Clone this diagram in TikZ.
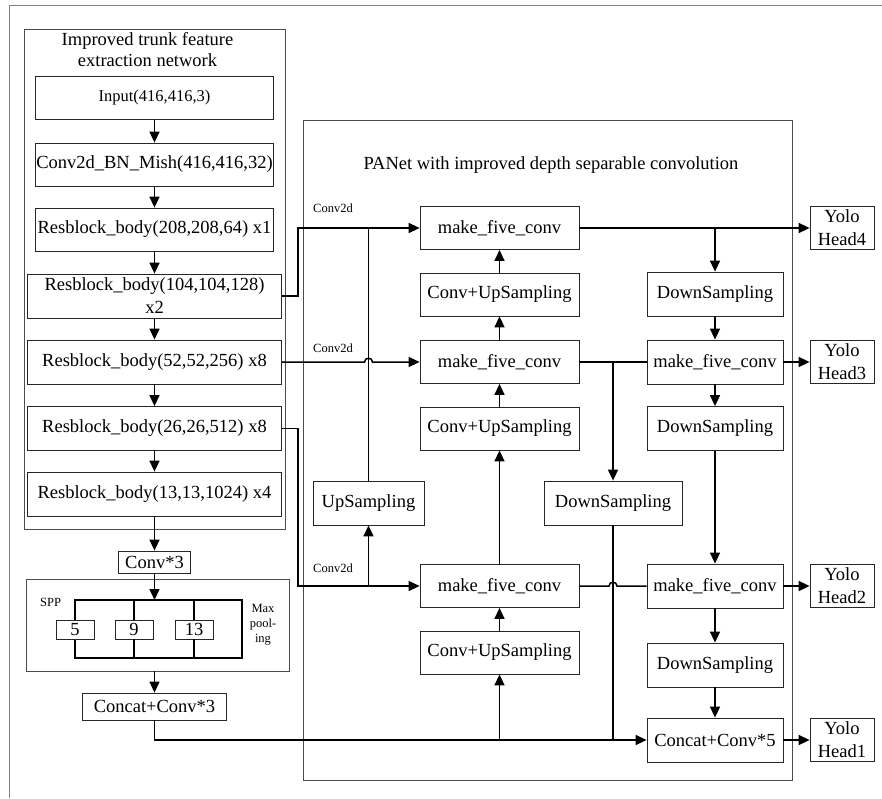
\documentclass[tikz,border=0pt]{standalone}
\usepackage{fontspec}
\setmainfont{Liberation Serif}
\usetikzlibrary{arrows.meta}
\newcommand\boxfont{\fontsize{18.5}{23}\selectfont}
\newcommand\inputfont{\fontsize{16.5}{20}\selectfont}
\newcommand\notefont{\fontsize{12.5}{15}\selectfont}
\begin{document}
\begin{tikzpicture}[x=1pt,y=-1pt,
  blk/.style={draw=black!85, line width=0.8pt, inner sep=0pt, align=center, font=\boxfont},
  trunkbox/.style={blk, minimum width=238pt, minimum height=43pt},
  widebox/.style={blk, minimum width=254pt, minimum height=44pt},
  panbox/.style={blk, minimum width=159pt, minimum height=43pt},
  sidebox/.style={blk, minimum width=136pt, minimum height=44pt},
  headbox/.style={blk, minimum width=64pt, minimum height=43pt},
  poolbox/.style={blk, fill=white, minimum width=38pt, minimum height=19pt},
  flow/.style={line width=1.5pt, -{Triangle[length=11pt,width=10pt]}},
  wire/.style={line width=1.5pt},
  frame/.style={draw=black!70, line width=0.9pt},
  note/.style={font=\notefont, inner sep=0pt, align=center}]
\useasboundingbox (0,0) rectangle (882,798);

% outer frame
\draw[draw=black!50, line width=1pt] (9,798) -- (9,5) -- (882,5);

% ---------------- trunk network ----------------
\draw[frame] (24,29) rectangle (285,529);
\node[fill=white, inner sep=0pt, minimum width=238pt, minimum height=40pt, align=center,
      font=\fontsize{18.5}{21}\selectfont] (ttl) at (147.5,50) {Improved trunk feature\\extraction network};

\node[trunkbox, font=\inputfont] (inp) at (154.5,98) {Input(416,416,3)};
\node[trunkbox] (c2d) at (154.5,164.5) {Conv2d\_BN\_Mish(416,416,32)};
\node[trunkbox] (rb1) at (154.5,229.5) {Resblock\_body(208,208,64) x1};
\node[widebox] (rb2) at (154.5,296) {Resblock\_body(104,104,128)\\x2};
\node[widebox] (rb3) at (154.5,362) {Resblock\_body(52,52,256) x8};
\node[widebox] (rb4) at (154.5,428.5) {Resblock\_body(26,26,512) x8};
\node[widebox] (rb5) at (154.5,494) {Resblock\_body(13,13,1024) x4};

\draw[flow] (inp) -- (c2d);
\draw[flow] (c2d) -- (rb1);
\draw[flow] (rb1) -- (rb2);
\draw[flow] (rb2) -- (rb3);
\draw[flow] (rb3) -- (rb4);
\draw[flow] (rb4) -- (rb5);

\node[blk, minimum width=72pt, minimum height=22pt] (cv3) at (154.5,562) {Conv*3};
\draw[flow] (rb5) -- (cv3);

% ---------------- SPP ----------------
\node[frame, minimum width=263pt, minimum height=92pt, inner sep=0pt] (spp) at (157.5,625) {};
\node[note, anchor=west] (spplbl) at (40,602) {SPP};
\node[note] (mp) at (263,625) {Max\\pool-\\ing};
\coordinate (brTL) at (75,600);
\coordinate (brBR) at (242,658);
\draw[wire] (brTL) rectangle (brBR);
\node[poolbox] (p5) at (75,629.5) {5};
\node[poolbox] (p9) at (134,629.5) {9};
\node[poolbox] (p13) at (194,629.5) {13};
\draw[wire] (p9 |- brTL) -- (p9.north);
\draw[wire] (p9.south) -- (p9 |- brBR);
\draw[wire] (p13 |- brTL) -- (p13.north);
\draw[wire] (p13.south) -- (p13 |- brBR);
\draw[flow] (cv3) -- (cv3 |- brTL);

\node[blk, minimum width=144pt, minimum height=27pt] (cc3) at (154.5,706.5) {Concat+Conv*3};
\draw[flow] (spp.south -| cc3) -- (cc3);

% ---------------- PANet ----------------
\node[frame, minimum width=489pt, minimum height=660pt, inner sep=0pt] (pan) at (547.5,450) {};
\node[font=\boxfont, inner sep=0pt] (pantl) at (551,165) {PANet with improved depth separable convolution};

\node[panbox] (mf4) at (499.5,228) {make\_five\_conv};
\node[panbox] (cu1) at (499.5,294.5) {Conv+UpSampling};
\node[panbox] (mf3) at (499.5,362) {make\_five\_conv};
\node[panbox] (cu2) at (499.5,428.5) {Conv+UpSampling};
\node[blk, minimum width=111pt, minimum height=44pt] (up) at (368.5,503) {UpSampling};
\node[panbox] (mf2) at (499.5,586) {make\_five\_conv};
\node[panbox] (cu3) at (499.5,652.5) {Conv+UpSampling};

\node[sidebox] (ds1) at (715,294) {DownSampling};
\node[sidebox] (mf3r) at (715,362) {make\_five\_conv};
\node[sidebox] (ds2) at (715,428.5) {DownSampling};
\node[blk, minimum width=138pt, minimum height=44pt] (dsm) at (613,503) {DownSampling};
\node[sidebox] (mf2r) at (715,586) {make\_five\_conv};
\node[sidebox] (ds3) at (715,665) {DownSampling};
\node[sidebox] (cc5) at (715,740) {Concat+Conv*5};

\node[headbox] (yh4) at (842,228) {Yolo\\Head4};
\node[headbox] (yh3) at (842,362) {Yolo\\Head3};
\node[headbox] (yh2) at (842,586) {Yolo\\Head2};
\node[headbox] (yh1) at (842,740) {Yolo\\Head1};

\node[note] (lb1) at (333,208) {Conv2d};
\node[note] (lb2) at (333,348) {Conv2d};
\node[note] (lb3) at (333,568) {Conv2d};

% lateral inputs from the trunk
\draw[flow] (rb2.east) -- ++(16,0) |- (mf4.west);
\draw[wire] (up.north) -- (up.north |- mf4.west);
\coordinate (hopA) at (up.north |- mf3.west);
\draw[flow] (rb3.east) -- ([xshift=-4pt]hopA)
  .. controls ([xshift=-4pt,yshift=5pt]hopA) and ([xshift=4pt,yshift=5pt]hopA) .. ([xshift=4pt]hopA)
  -- (mf3.west);
\draw[flow] (rb4.east) -- ++(16,0) |- (mf2.west);
\draw[flow] (up.south |- mf2.west) -- (up.south);

% top-down path
\draw[flow] (cc3.south) |- (cc5.west);
\draw[flow] (cu3 |- cc5.west) -- (cu3);
\draw[flow] (cu3) -- (mf2);
\draw[flow] (mf2) -- (cu2);
\draw[flow] (cu2) -- (mf3);
\draw[flow] (mf3) -- (cu1);
\draw[flow] (cu1) -- (mf4);

% bottom-up path
\draw[flow] (mf4) -- (yh4);
\draw[flow] (ds1.north |- mf4.east) -- (ds1);
\draw[flow] (ds1) -- (mf3r);
\draw[wire] (mf3) -- (mf3r);
\draw[flow] (dsm.north |- mf3.east) -- (dsm);
\draw[flow] (mf3r) -- (yh3);
\draw[flow] (mf3r) -- (ds2);
\draw[flow] (ds2) -- (mf2r);
\coordinate (hopB) at (dsm.south |- mf2.east);
\draw[wire] (mf2.east) -- ([xshift=-4pt]hopB)
  .. controls ([xshift=-4pt,yshift=5pt]hopB) and ([xshift=4pt,yshift=5pt]hopB) .. ([xshift=4pt]hopB)
  -- (mf2r.west);
\draw[wire] (dsm.south) -- (dsm.south |- cc5.west);
\draw[flow] (mf2r) -- (yh2);
\draw[flow] (mf2r) -- (ds3);
\draw[flow] (ds3) -- (cc5);
\draw[flow] (cc5) -- (yh1);
\end{tikzpicture}
\end{document}
